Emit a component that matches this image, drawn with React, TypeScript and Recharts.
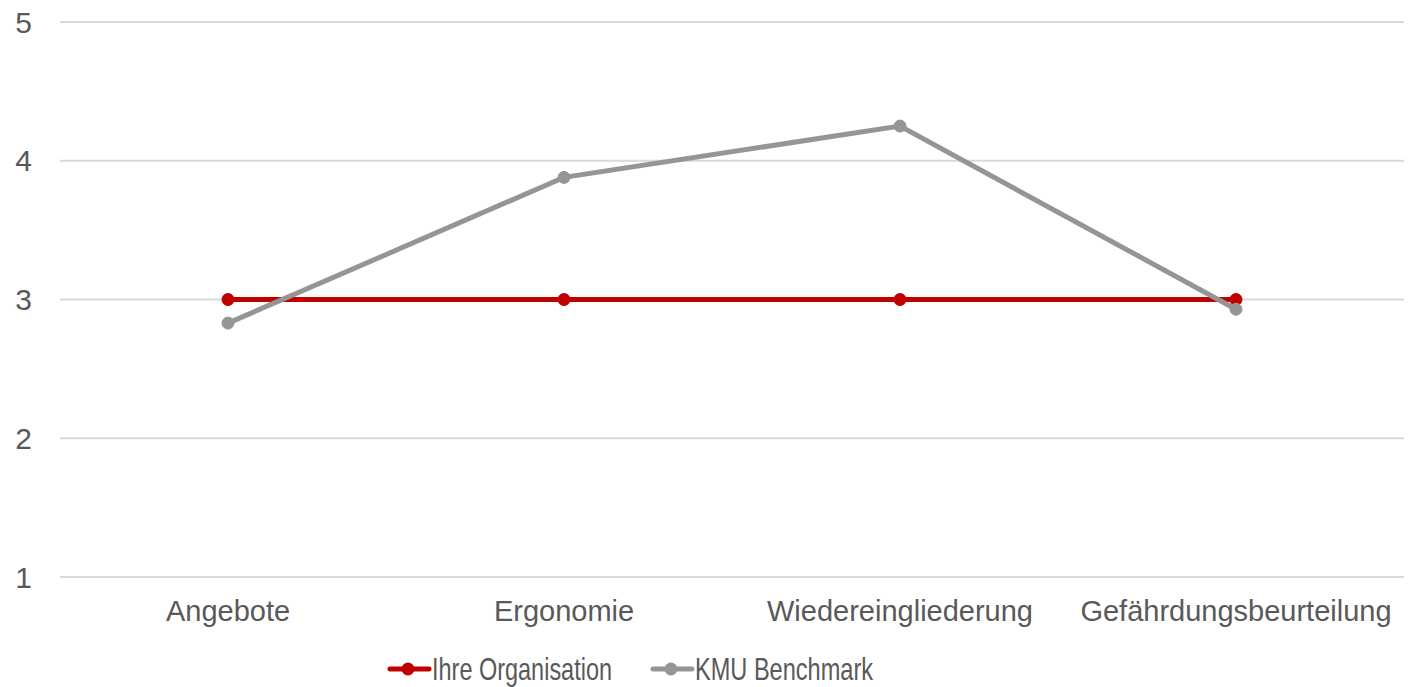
import { LineChart, Line, XAxis, YAxis, CartesianGrid, Legend } from 'recharts';

const categories = ['Angebote', 'Ergonomie', 'Wiedereingliederung', 'Gefährdungsbeurteilung'];
const ihreOrganisation = [3, 3, 3, 3];
const kmuBenchmark = [2.83, 3.88, 4.25, 2.93];
const yTicks = [1, 2, 3, 4, 5];

const RED = '#c00000';
const GREY = '#959595';
const TEXT = '#595959';

const data = categories.map((name, i) => ({
  name,
  ihre: ihreOrganisation[i],
  kmu: kmuBenchmark[i],
}));

// legend labels are set in a condensed face, squeezed to a fixed width
const legendItems = [
  { label: 'Ihre Organisation', color: RED, textWidth: 180 },
  { label: 'KMU Benchmark', color: GREY, textWidth: 178 },
];

function LegendContent() {
  return (
    <div style={{ display: 'flex', alignItems: 'flex-start', gap: 37 }}>
      {legendItems.map(item => (
        <svg
          key={item.label}
          width={46 + item.textWidth}
          height={36}
          style={{ display: 'block', overflow: 'visible' }}
        >
          <line x1={3} y1={18} x2={42} y2={18} stroke={item.color} strokeWidth={5} strokeLinecap="round" />
          <circle cx={21} cy={18} r={6.5} fill={item.color} />
          <text
            x={45}
            y={29}
            fontSize={32}
            fill={TEXT}
            textLength={item.textWidth}
            lengthAdjust="spacingAndGlyphs"
            fontFamily='"Liberation Sans", Arial, sans-serif'
          >
            {item.label}
          </text>
        </svg>
      ))}
    </div>
  );
}

export default function App() {
  return (
    <div style={{ position: 'absolute', left: 0, top: 0, width: 1408, height: 687, background: '#fff' }}>
      <LineChart
        width={1408}
        height={687}
        data={data}
        margin={{ top: 22, right: 4, left: 0, bottom: 0 }}
        style={{ fontFamily: '"Liberation Sans", Arial, sans-serif' }}
      >
        <CartesianGrid vertical={false} stroke="#d9d9d9" strokeWidth={2} />
        <XAxis
          dataKey="name"
          scale="band"
          axisLine={false}
          tickLine={false}
          tickMargin={17}
          height={74}
          interval={0}
          tick={{ fontSize: 29, fill: TEXT }}
        />
        <YAxis
          domain={[1, 5]}
          ticks={yTicks}
          width={60}
          axisLine={false}
          tickLine={false}
          tickMargin={22}
          tick={{ fontSize: 30, fill: TEXT }}
        />
        <Legend
          content={<LegendContent />}
          wrapperStyle={{ position: 'absolute', top: 651, left: 387 }}
        />
        <Line
          type="linear"
          dataKey="ihre"
          name="Ihre Organisation"
          stroke={RED}
          strokeWidth={5}
          dot={{ r: 6, fill: RED, stroke: RED, strokeWidth: 1 }}
          isAnimationActive={false}
        />
        <Line
          type="linear"
          dataKey="kmu"
          name="KMU Benchmark"
          stroke={GREY}
          strokeWidth={5}
          dot={{ r: 6, fill: GREY, stroke: GREY, strokeWidth: 1 }}
          isAnimationActive={false}
        />
      </LineChart>
    </div>
  );
}
